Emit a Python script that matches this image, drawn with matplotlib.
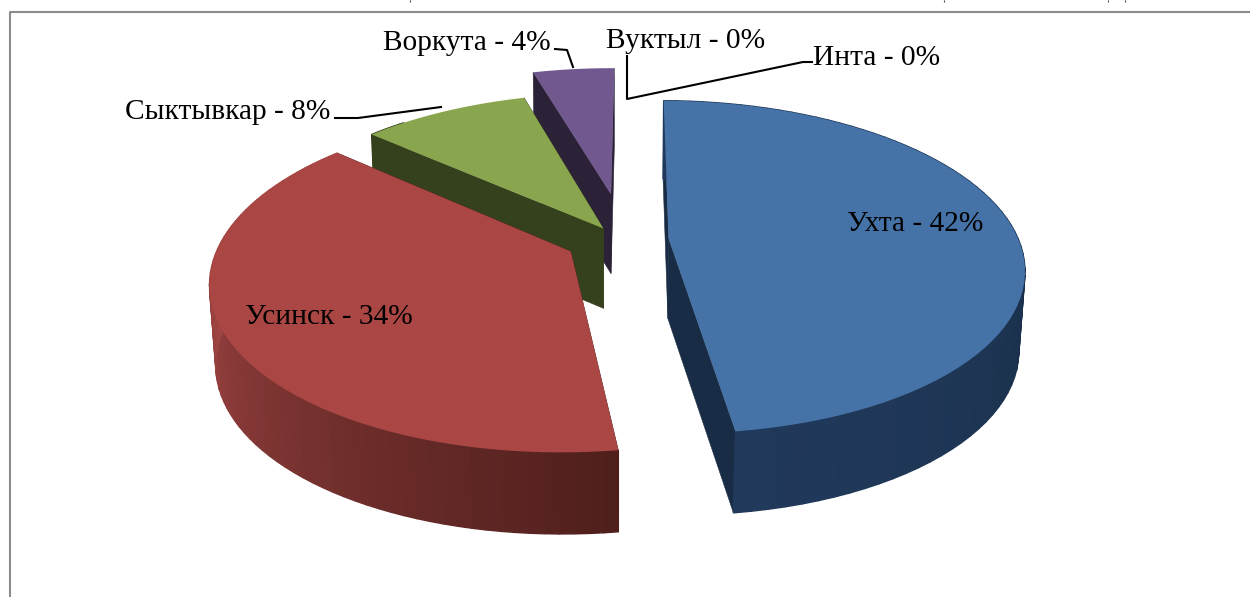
import numpy as np
import matplotlib
matplotlib.use('Agg')
import matplotlib.pyplot as plt
from matplotlib.colors import to_rgb

plt.rcParams['font.family'] = ['Liberation Serif', 'DejaVu Serif']

cities = ['Ухта', 'Усинск', 'Сыктывкар', 'Воркута', 'Вуктыл', 'Инта']
shares = [42, 34, 8, 4, 0, 0]
tops = ['#4572A7', '#AA4643', '#89A54E', '#71588F']
cuts = ['#182D45', '#5A2422', '#35401C', '#2C2238']
wall_light = ['#21395A', '#A04543', '#35401C', '#2C2238']
wall_dark = ['#182E48', '#4F1F1C', '#35401C', '#2C2238']
explode = [0.148, 0.148, 0.085, 0.30]
nudge_x = [0, 0, 0.006, 0.022]

# projection of the pie plane to pixels
U0, V0 = 617, 240
A, B, P, H = 350, 162, 0.172, 80
ROT = np.radians(0.5)


def project(x, y, low=False):
    w = 1 + P * y + (0.015 if low else 0)
    u = U0 + A * x / w
    v = V0 - B * y / w
    if low:
        v = v + H * (1 + 0.3 * (1 / (1 + P * y) - 1))
    return u, v


fig = plt.figure(figsize=(12.5, 5.97), dpi=100)
ax = fig.add_axes([0, 0, 1, 1])
ax.set_xlim(0, 1250)
ax.set_ylim(597, 0)
ax.axis('off')

# the frame of the page the chart was cut from
ax.plot([10, 10, 1250], [597, 12, 12], c='#8c8c8c', lw=1.5)
ax.vlines([410, 944, 1108, 1125], 0, 2, color='#444444', lw=0.8)

fractions = np.array(shares[:4]) / sum(shares)
ends = np.cumsum(fractions) * 2 * np.pi + ROT
starts = ends - fractions * 2 * np.pi

for i in [3, 2, 0, 1]:
    th = np.linspace(starts[i], ends[i], 70)
    mid = (starts[i] + ends[i]) / 2
    ox, oy = explode[i] * np.sin(mid) + nudge_x[i], explode[i] * np.cos(mid)
    rx, ry = ox + np.sin(th), oy + np.cos(th)

    # flat cut faces, from the centre to both rim ends
    for k in [0, -1]:
        a0, b0 = project(ox, oy)
        a1, b1 = project(rx[k], ry[k])
        a2, b2 = project(rx[k], ry[k], low=True)
        a3, b3 = project(ox, oy, low=True)
        ax.fill([a0, a1, a2, a3], [b0, b1, b2, b3], c=cuts[i], lw=0.4)

    # outer wall in narrow strips so the shade can change along it
    for k in range(len(th) - 1):
        if np.cos(th[k]) > 0.75 and i != 0:
            continue
        if i == 1:
            t = np.clip((th[k] - starts[1]) / (ends[1] - starts[1]) * 1.45, 0, 1)
        else:
            t = abs(np.cos(th[k]))
        col = np.array(to_rgb(wall_dark[i])) * (1 - t) + np.array(to_rgb(wall_light[i])) * t
        a0, b0 = project(rx[k], ry[k])
        a1, b1 = project(rx[k + 1], ry[k + 1])
        a2, b2 = project(rx[k + 1], ry[k + 1], low=True)
        a3, b3 = project(rx[k], ry[k], low=True)
        ax.fill([a0, a1, a2, a3], [b0, b1, b2, b3], fc=col, ec=col, lw=1.0)

    # top face
    a, b = project(np.r_[ox, rx], np.r_[oy, ry])
    ax.fill(a, b, c=tops[i], lw=0)

# leader lines
ax.plot([335, 358, 441], [118, 118, 107], c='black', lw=1.5)
ax.plot([555, 567, 573], [49, 50, 67], c='black', lw=1.5)
ax.plot([627, 627, 803, 812], [56, 99, 62, 62], c='black', lw=1.5)

labels = [f'{c} - {s}%' for c, s in zip(cities, shares)]
label_x = [915, 328.5, 228, 466.5, 685.5, 876.5]
label_y = [224, 317, 112, 43, 41, 58]
for t, x, y in zip(labels, label_x, label_y):
    ax.text(x, y, t, ha='center', va='center', fontsize=21.2, color='black')

fig.savefig('out.png', dpi=100)
